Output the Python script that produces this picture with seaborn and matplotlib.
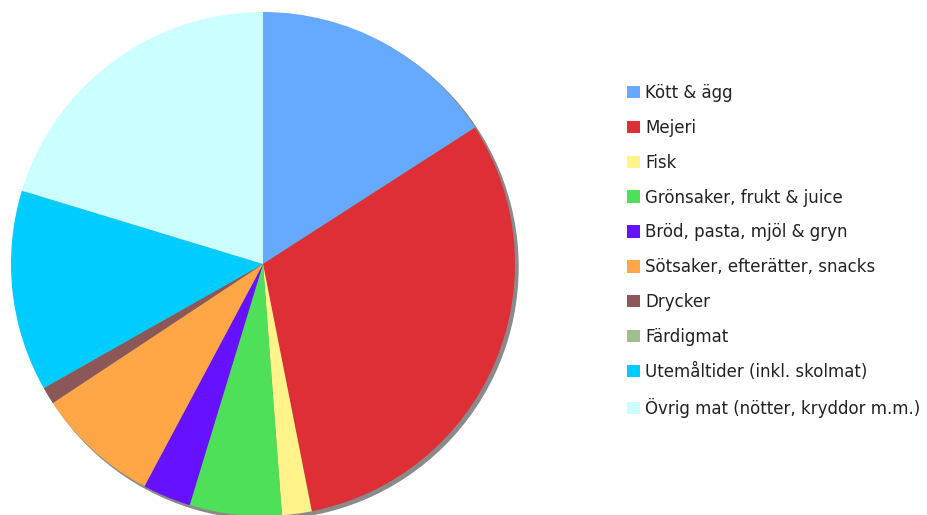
import matplotlib.pyplot as plt
import seaborn as sns
from matplotlib.patches import Circle, Patch

kategorier = ['Kött & ägg', 'Mejeri', 'Fisk', 'Grönsaker, frukt & juice',
              'Bröd, pasta, mjöl & gryn', 'Sötsaker, efterätter, snacks',
              'Drycker', 'Färdigmat', 'Utemåltider (inkl. skolmat)',
              'Övrig mat (nötter, kryddor m.m.)']
andelar = [15.9, 31.0, 1.9, 5.9, 3.1, 7.9, 1.1, 0.0, 12.9, 20.3]
farger = ['#66aaff', '#dd2f35', '#fff38a', '#4fe05a', '#6611ff',
          '#ffa646', '#8b5758', '#a0bf90', '#00ccff', '#ccffff']

sns.set_theme(style="white")
plt.rcParams['font.family'] = ['DejaVu Sans']

fig = plt.figure(figsize=(9.27, 5.15), dpi=100)
ax = fig.add_axes([0, 0, 1, 1])

cx, cy, r = 263, 251, 252
# skugga bakom pajen
ax.add_patch(Circle((cx + 3, cy - 3), r, color='#8a8a8a', zorder=0))
ax.pie(andelar, colors=farger, startangle=90, counterclock=False,
       center=(cx, cy), radius=r, frame=True,
       wedgeprops={'linewidth': 0, 'zorder': 1})
ax.set_xlim(0, 927)
ax.set_ylim(0, 515)
ax.set_aspect('equal')
ax.axis('off')

handles = [Patch(facecolor=c, edgecolor='none') for c in farger]
leg = fig.legend(handles, kategorier, loc='upper left',
                 bbox_to_anchor=(627 / 927, 1 - 84 / 515),
                 frameon=False, fontsize=12, handlelength=0.78,
                 handleheight=0.78, handletextpad=0.3, labelspacing=1.01,
                 borderpad=0, borderaxespad=0)
for t in leg.get_texts():
    t.set_color('#222222')

fig.savefig('out.png', dpi=100)
